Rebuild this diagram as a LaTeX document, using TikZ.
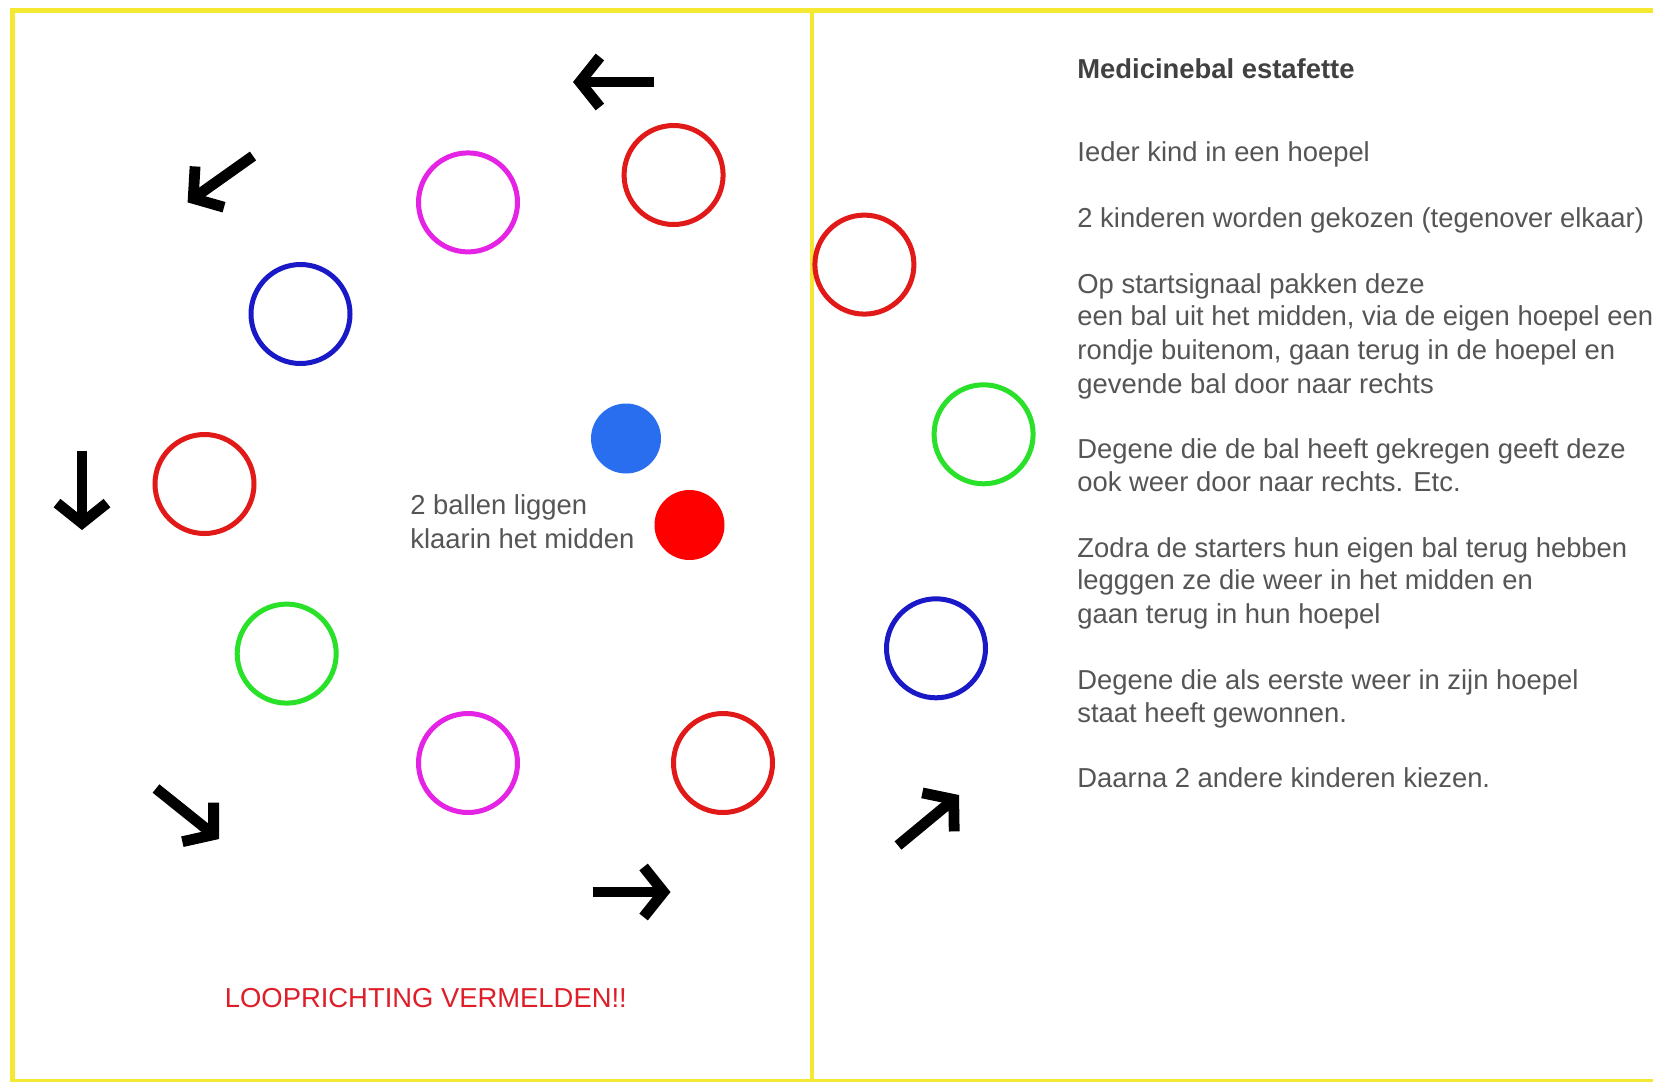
\documentclass[tikz,border=0pt]{standalone}
\usepackage{fontspec}
\setmainfont{Liberation Sans}
\usetikzlibrary{arrows.meta}
\definecolor{bordery}{RGB}{245,232,50}
\definecolor{hred}{RGB}{225,25,25}
\definecolor{hmag}{RGB}{228,35,228}
\definecolor{hblue}{RGB}{25,25,200}
\definecolor{hgreen}{RGB}{40,225,40}
\definecolor{ballblue}{RGB}{42,110,240}
\definecolor{ballred}{RGB}{255,0,0}
\definecolor{txtgrey}{RGB}{85,85,85}
\definecolor{titlegrey}{RGB}{65,65,65}
\definecolor{warnred}{RGB}{222,30,40}
\tikzset{
  hoop/.style={circle, draw=#1, line width=2.5pt, minimum size=49.5pt, inner sep=0pt},
  ball/.style={circle, fill=#1, minimum size=35pt, inner sep=0pt},
  bigarrow/.style={line width=5.4pt, -{Straight Barb[length=10pt,width=25pt,line join=miter]}},
  txt/.style={anchor=base west, inner sep=0pt, text=txtgrey, font=\fontsize{13.7pt}{16.5pt}\selectfont},
  border/.style={draw=bordery}
}
\begin{document}
\begin{tikzpicture}[x=0.5pt,y=-0.5pt]
\useasboundingbox (0,0) rectangle (1653,1082);
\fill[white] (0,0) rectangle (1653,1082);
% border
\draw[border, line width=2.5pt] (10,10.5) -- (1653,10.5);
\draw[border, line width=2.5pt] (12,8) -- (12,1082);
\draw[border, line width=1.2pt] (12,1080.5) -- (1653,1080.5);
\draw[border, line width=2pt] (812,10) -- (812,1082);
% hoops
\node[hoop=hred]   (r1) at (673.6,175) {};
\node[hoop=hmag]   (m1) at (468,202.4) {};
\node[hoop=hblue]  (b1) at (300.5,314) {};
\node[hoop=hred]   (r2) at (204.5,484) {};
\node[hoop=hgreen] (g1) at (286.7,653.6) {};
\node[hoop=hmag]   (m2) at (468,763) {};
\node[hoop=hred]   (r3) at (723,763) {};
\node[hoop=hred]   (r4) at (864.4,264.6) {};
\node[hoop=hgreen] (g2) at (983.6,434.3) {};
\node[hoop=hblue]  (b2) at (936,648.3) {};
% balls
\node[ball=ballblue] (bb) at (626,438.5) {};
\node[ball=ballred]  (br) at (689.5,525) {};
\node[txt] (l1) at (410,514) {2 ballen liggen};
\node[txt] (l2) at (410,548) {klaarin het midden};
% arrows
\coordinate (a1s) at (654,82);    \coordinate (a1e) at (573,82);
\coordinate (a2s) at (253,156);   \coordinate (a2e) at (187.6,202.4);
\coordinate (a3s) at (82,451);    \coordinate (a3e) at (82,530);
\coordinate (a4s) at (156,788.5); \coordinate (a4e) at (219,839);
\coordinate (a5s) at (592.5,892); \coordinate (a5e) at (670.5,892);
\coordinate (a6s) at (898,845.5); \coordinate (a6e) at (959,795);
\draw[bigarrow] (a1s) -- (a1e);
\draw[bigarrow] (a2s) -- (a2e);
\draw[bigarrow] (a3s) -- (a3e);
\draw[bigarrow] (a4s) -- (a4e);
\draw[bigarrow] (a5s) -- (a5e);
\draw[bigarrow] (a6s) -- (a6e);
% warning
\node[txt, text=warnred] (warn) at (224.5,1007) {LOOPRICHTING VERMELDEN!!};
% right text
\node[txt, text=titlegrey, font=\fontsize{13.7pt}{16.5pt}\selectfont\bfseries] (title) at (1077,78) {Medicinebal estafette};
\node[txt] (t1)  at (1077,161) {Ieder kind in een hoepel};
\node[txt] (t2)  at (1077,227) {2 kinderen worden gekozen (tegenover elkaar)};
\node[txt] (t3)  at (1077,293) {Op startsignaal pakken deze};
\node[txt] (t4)  at (1077,325) {een bal uit het midden, via de eigen hoepel een};
\node[txt] (t5)  at (1077,359) {rondje buitenom, gaan terug in de hoepel en};
\node[txt] (t6)  at (1077,393) {gevende bal door naar rechts};
\node[txt] (t7)  at (1077,458) {Degene die de bal heeft gekregen geeft deze};
\node[txt] (t8)  at (1077,491) {ook weer door naar rechts. Etc.};
\node[txt] (t9)  at (1077,557) {Zodra de starters hun eigen bal terug hebben};
\node[txt] (t10) at (1077,589) {legggen ze die weer in het midden en};
\node[txt] (t11) at (1077,623) {gaan terug in hun hoepel};
\node[txt] (t12) at (1077,689) {Degene die als eerste weer in zijn hoepel};
\node[txt] (t13) at (1077,722) {staat heeft gewonnen.};
\node[txt] (t14) at (1077,787) {Daarna 2 andere kinderen kiezen.};
\end{tikzpicture}
\end{document}
